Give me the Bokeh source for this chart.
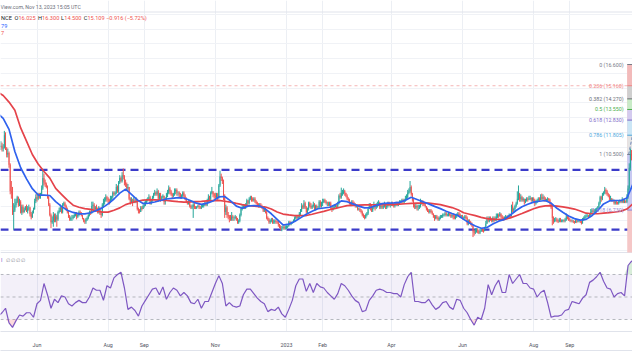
import numpy as np
import pandas as pd
from bokeh.plotting import figure
from bokeh.models import (Range1d, FixedTicker, Grid, Span, Label, BoxAnnotation, ColumnDataSource,
                          LinearAxis)
from bokeh.embed import file_html
from bokeh.resources import INLINE

# ---------------- data: LINK/USDT daily candles ----------------
first_open = 11.0
month_starts = ["2022-05-01", "2022-06-01", "2022-07-01", "2022-08-01", "2022-09-01",
                "2022-10-01", "2022-11-01", "2022-12-01", "2023-01-01", "2023-02-01",
                "2023-03-01", "2023-04-01", "2023-05-01", "2023-06-01", "2023-07-01",
                "2023-08-01", "2023-09-01", "2023-10-01"]

close_2205 = [11.1, 10.9, 10.95, 11.8, 10.9, 10.5, 10.6,
              9.8, 8.0, 7.9, 6.6, 6.7, 7.05, 7.3, 7.6, 7.05, 7.3, 6.55, 6.95, 6.6, 6.75, 6.95, 6.65, 6.85, 6.9, 6.45, 6.25, 6.55, 6.8, 7.35, 7.6]
high_2205 = [11.4, 11.3, 11.2, 12.1, 12.0, 11.0, 10.9,
             10.7, 9.9, 8.7, 8.3, 7.2, 7.5, 7.5, 7.7, 7.65, 7.5, 7.4, 7.1, 7.1, 6.9, 7.0, 7.1, 7.0, 7.1, 6.95, 6.6, 6.7, 6.9, 7.5, 7.8]
low_2205 = [10.8, 10.7, 10.7, 10.9, 10.8, 10.3, 10.3,
            9.6, 7.8, 7.5, 6.4, 5.4, 6.6, 6.9, 7.2, 6.95, 7.0, 6.5, 6.4, 6.5, 6.55, 6.7, 6.6, 6.5, 6.7, 6.3, 6.1, 6.2, 6.5, 6.75, 7.2]

close_2206 = [7.5, 7.8, 7.6, 7.75, 8.2, 8.9, 8.6, 8.5, 8.3, 7.6, 7.1, 6.4, 5.9, 6.0, 6.4, 6.0, 6.3, 6.1, 6.6, 6.7, 6.9, 6.6, 7.1, 7.2, 7.0, 6.8, 6.6, 6.3, 6.1, 6.2]
high_2206 = [7.9, 7.9, 7.9, 7.9, 8.4, 9.5, 9.2, 8.8, 8.6, 8.4, 7.7, 7.2, 6.5, 6.3, 6.6, 6.5, 6.5, 6.4, 6.7, 6.9, 7.1, 7.0, 7.2, 7.3, 7.3, 7.1, 6.9, 6.7, 6.4, 6.3]
low_2206 = [7.3, 7.4, 7.5, 7.5, 7.7, 8.1, 8.4, 8.3, 8.2, 7.5, 7.0, 6.3, 5.5, 5.8, 5.6, 5.9, 5.9, 5.6, 6.0, 6.5, 6.6, 6.5, 6.5, 7.0, 6.9, 6.7, 6.5, 6.2, 6.0, 6.0]

close_2207 = [6.2, 6.3, 6.4, 6.5, 6.3, 6.4, 6.6, 6.5, 6.4, 6.2, 6.0, 5.95, 6.1, 6.2, 6.4, 6.6, 6.5, 7.0, 7.1, 6.8, 6.9, 6.8, 6.6, 6.9, 6.5, 6.4, 7.1, 7.3, 7.4, 7.6, 7.5]
high_2207 = [6.4, 6.4, 6.5, 6.6, 6.6, 6.5, 6.7, 6.7, 6.6, 6.4, 6.2, 6.1, 6.2, 6.3, 6.5, 6.7, 6.7, 7.3, 7.3, 7.2, 7.0, 7.1, 6.9, 7.0, 6.9, 6.6, 7.2, 7.5, 7.6, 7.8, 7.7]
low_2207 = [6.0, 6.1, 6.2, 6.3, 6.1, 6.2, 6.3, 6.4, 6.3, 6.1, 5.9, 5.8, 5.8, 6.0, 6.1, 6.3, 6.4, 6.5, 6.8, 6.6, 6.6, 6.7, 6.5, 6.5, 6.4, 6.2, 6.3, 6.9, 7.1, 7.3, 7.3]

close_2208 = [7.4, 7.3, 7.5, 7.6, 7.9, 7.8, 7.9, 8.3, 8.0, 8.6, 8.9, 8.7, 9.1, 9.0, 8.6, 8.5, 8.2, 8.3, 7.5, 7.3, 7.4, 7.3, 7.4, 7.3, 7.4, 6.8, 6.7, 6.6, 6.9, 6.8, 7.0]
high_2208 = [7.6, 7.5, 7.7, 7.7, 8.0, 8.0, 8.0, 8.5, 8.4, 8.7, 9.1, 9.0, 9.3, 9.55, 9.1, 8.8, 8.6, 8.5, 8.3, 7.6, 7.6, 7.5, 7.6, 7.5, 7.6, 7.5, 6.9, 6.8, 7.0, 7.0, 7.1]
low_2208 = [7.2, 7.1, 7.2, 7.4, 7.5, 7.7, 7.7, 7.8, 7.9, 7.9, 8.5, 8.6, 8.6, 8.8, 8.4, 8.3, 8.1, 8.1, 7.4, 7.1, 7.2, 7.0, 7.2, 7.2, 7.2, 6.7, 6.5, 6.5, 6.6, 6.7, 6.8]

close_2209 = [7.1, 7.3, 7.4, 7.5, 7.6, 7.2, 7.4, 7.6, 7.8, 7.9, 7.8, 8.0, 7.5, 7.8, 7.5, 7.6, 7.7, 7.3, 7.5, 7.8, 7.9, 8.2, 8.0, 7.8, 7.7, 7.8, 8.0, 8.1, 7.9, 7.9]
high_2209 = [7.3, 7.4, 7.5, 7.6, 7.8, 7.7, 7.5, 7.7, 7.9, 8.1, 8.0, 8.2, 8.1, 7.9, 7.9, 7.7, 7.8, 7.7, 7.6, 7.9, 8.1, 8.4, 8.3, 8.1, 7.9, 7.9, 8.2, 8.2, 8.2, 8.0]
low_2209 = [6.9, 7.0, 7.2, 7.3, 7.4, 7.1, 7.1, 7.3, 7.5, 7.7, 7.7, 7.7, 7.3, 7.4, 7.3, 7.4, 7.5, 7.1, 7.1, 7.4, 7.6, 7.8, 7.8, 7.7, 7.5, 7.6, 7.7, 7.8, 7.7, 7.7]

close_2210 = [7.8, 7.6, 7.7, 7.9, 7.7, 7.5, 7.3, 7.2, 7.3, 7.0, 6.9, 6.95, 7.1, 6.9, 6.85, 6.95, 7.0, 6.95, 6.9, 6.95, 7.0, 7.1, 7.2, 7.1, 7.4, 7.6, 7.5, 7.9, 8.0, 7.8, 7.7]
high_2210 = [8.0, 7.9, 7.8, 8.0, 8.0, 7.8, 7.6, 7.35, 7.4, 7.4, 7.1, 7.1, 7.2, 7.3, 7.0, 7.0, 7.1, 7.2, 7.0, 7.1, 7.1, 7.2, 7.3, 7.3, 7.5, 7.8, 7.7, 8.0, 8.3, 8.0, 7.9]
low_2210 = [7.6, 7.5, 7.5, 7.6, 7.6, 7.4, 7.2, 7.1, 7.1, 6.9, 6.8, 6.8, 6.2, 6.8, 6.8, 6.8, 6.9, 6.8, 6.8, 6.8, 6.9, 6.9, 7.0, 7.0, 7.0, 7.3, 7.4, 7.4, 7.8, 7.6, 7.5]

close_2211 = [7.6, 7.8, 7.6, 8.4, 9.0, 8.9, 8.7, 7.6, 6.6, 6.9, 6.4, 6.3, 6.2, 6.1, 6.3, 6.2, 6.2, 6.3, 6.1, 5.9, 6.0, 6.4, 6.8, 6.9, 7.0, 6.9, 7.1, 7.4, 7.2, 7.5]
high_2211 = [7.9, 7.9, 7.9, 8.5, 9.4, 9.2, 9.0, 8.8, 7.8, 7.1, 7.0, 6.6, 6.4, 6.4, 6.6, 6.4, 6.3, 6.4, 6.3, 6.2, 6.1, 6.5, 6.9, 7.1, 7.1, 7.1, 7.2, 7.5, 7.4, 7.6]
low_2211 = [7.4, 7.5, 7.4, 7.5, 8.3, 8.7, 8.5, 7.4, 6.2, 6.4, 6.2, 6.1, 5.9, 6.0, 6.0, 6.0, 6.0, 6.1, 6.0, 5.8, 5.8, 5.9, 6.3, 6.7, 6.8, 6.8, 6.8, 7.0, 7.1, 7.1]

close_2212 = [7.6, 7.5, 7.4, 7.5, 7.3, 7.2, 7.1, 7.0, 7.1, 7.0, 6.9, 6.7, 6.8, 6.6, 6.2, 6.1, 5.9, 6.0, 6.1, 5.9, 5.9, 6.0, 5.95, 5.9, 5.75, 5.6, 5.5, 5.5, 5.6, 5.5, 5.55]
high_2212 = [7.7, 7.7, 7.6, 7.6, 7.6, 7.4, 7.3, 7.2, 7.2, 7.2, 7.1, 7.0, 7.0, 6.9, 6.7, 6.3, 6.2, 6.1, 6.2, 6.2, 6.1, 6.1, 6.1, 6.0, 6.0, 5.8, 5.7, 5.65, 5.7, 5.7, 5.7]
low_2212 = [7.4, 7.3, 7.3, 7.3, 7.2, 7.1, 7.0, 6.9, 6.9, 6.9, 6.8, 6.6, 6.6, 6.5, 6.1, 6.0, 5.8, 5.8, 5.9, 5.8, 5.8, 5.8, 5.8, 5.8, 5.6, 5.5, 5.35, 5.3, 5.4, 5.4, 5.4]

close_2301 = [5.6, 5.65, 5.9, 5.8, 5.85, 5.9, 6.0, 6.2, 6.3, 6.2, 6.3, 6.5, 6.7, 7.0, 6.9, 7.2, 6.9, 6.6, 6.8, 7.2, 7.0, 6.9, 7.0, 7.1, 6.8, 7.0, 6.9, 6.9, 7.3, 7.0, 7.2]
high_2301 = [5.7, 5.7, 6.0, 6.0, 5.95, 5.95, 6.1, 6.3, 6.4, 6.4, 6.4, 6.6, 6.8, 7.2, 7.1, 7.4, 7.3, 7.0, 6.9, 7.3, 7.3, 7.2, 7.1, 7.3, 7.2, 7.1, 7.1, 7.0, 7.4, 7.4, 7.3]
low_2301 = [5.45, 5.5, 5.6, 5.7, 5.7, 5.8, 5.85, 5.95, 6.1, 6.1, 6.1, 6.2, 6.4, 6.6, 6.8, 6.8, 6.8, 6.5, 6.5, 6.7, 6.9, 6.8, 6.8, 6.9, 6.7, 6.7, 6.8, 6.8, 6.8, 6.9, 6.9]

close_2302 = [7.3, 7.4, 7.3, 7.2, 7.2, 7.1, 7.2, 6.9, 6.8, 6.9, 6.95, 7.0, 6.95, 7.2, 7.7, 7.6, 7.9, 7.9, 8.0, 7.9, 7.7, 7.5, 7.4, 7.2, 7.1, 7.3, 7.2, 7.1]
high_2302 = [7.5, 7.5, 7.5, 7.4, 7.3, 7.3, 7.3, 7.3, 7.0, 7.0, 7.05, 7.1, 7.1, 7.3, 7.8, 7.9, 8.25, 8.1, 8.2, 8.1, 7.9, 7.8, 7.6, 7.5, 7.3, 7.4, 7.4, 7.3]
low_2302 = [7.0, 7.2, 7.2, 7.1, 7.0, 7.0, 7.0, 6.8, 6.6, 6.7, 6.8, 6.9, 6.8, 6.9, 7.1, 7.5, 7.5, 7.7, 7.8, 7.7, 7.6, 7.4, 7.3, 7.1, 7.0, 7.0, 7.1, 7.0]

close_2303 = [7.0, 7.0, 6.8, 6.8, 6.7, 6.6, 6.4, 6.3, 6.2, 6.4, 6.5, 6.8, 7.0, 6.9, 6.7, 6.9, 7.0, 6.9, 7.0, 7.1, 7.2, 6.9, 7.0, 6.9, 7.0, 7.1, 6.9, 7.0, 7.2, 7.1, 7.1]
high_2303 = [7.2, 7.1, 7.0, 6.9, 6.9, 6.8, 6.7, 6.5, 6.4, 6.5, 6.6, 6.9, 7.2, 7.2, 7.1, 7.0, 7.3, 7.1, 7.2, 7.3, 7.4, 7.3, 7.2, 7.1, 7.1, 7.3, 7.2, 7.1, 7.3, 7.3, 7.2]
low_2303 = [6.9, 6.9, 6.7, 6.7, 6.6, 6.5, 6.3, 6.2, 6.1, 6.15, 6.3, 6.4, 6.8, 6.7, 6.6, 6.6, 6.8, 6.7, 6.8, 6.9, 7.0, 6.8, 6.8, 6.8, 6.8, 6.9, 6.8, 6.8, 6.9, 7.0, 6.9]

close_2304 = [7.2, 7.1, 7.0, 7.1, 7.2, 7.1, 7.2, 7.3, 7.3, 7.4, 7.3, 7.4, 7.5, 7.6, 7.9, 8.0, 8.3, 7.8, 7.4, 7.1, 6.9, 7.0, 6.9, 6.9, 7.0, 7.2, 7.3, 7.2, 7.1, 7.0]
high_2304 = [7.3, 7.3, 7.2, 7.2, 7.3, 7.3, 7.3, 7.4, 7.4, 7.5, 7.5, 7.5, 7.7, 7.8, 8.1, 8.2, 8.7, 8.4, 7.9, 7.5, 7.2, 7.2, 7.1, 7.1, 7.1, 7.5, 7.4, 7.4, 7.3, 7.2]
low_2304 = [7.0, 7.0, 6.9, 6.9, 7.0, 7.0, 7.0, 7.1, 7.2, 7.2, 7.2, 7.2, 7.3, 7.4, 7.5, 7.8, 7.9, 7.7, 7.3, 6.9, 6.8, 6.8, 6.7, 6.7, 6.8, 6.9, 7.1, 7.0, 7.0, 6.9]

close_2305 = [6.8, 6.7, 6.6, 6.7, 6.6, 6.5, 6.3, 6.2, 6.3, 6.2, 6.1, 6.2, 6.3, 6.3, 6.4, 6.4, 6.5, 6.4, 6.4, 6.5, 6.4, 6.3, 6.4, 6.3, 6.2, 6.3, 6.4, 6.5, 6.4, 6.3, 6.3]
high_2305 = [7.0, 6.9, 6.8, 6.8, 6.8, 6.7, 6.5, 6.4, 6.4, 6.4, 6.3, 6.3, 6.4, 6.4, 6.5, 6.5, 6.6, 6.6, 6.5, 6.6, 6.6, 6.5, 6.5, 6.5, 6.4, 6.4, 6.5, 6.6, 6.6, 6.5, 6.4]
low_2305 = [6.7, 6.6, 6.5, 6.5, 6.5, 6.4, 6.2, 6.0, 6.1, 6.1, 6.0, 6.0, 6.1, 6.2, 6.2, 6.3, 6.3, 6.3, 6.3, 6.3, 6.3, 6.2, 6.2, 6.1, 6.1, 6.1, 6.2, 6.3, 6.3, 6.2, 6.2]

close_2306 = [6.2, 6.2, 6.3, 6.2, 5.8, 6.0, 5.9, 5.8, 5.7, 5.3, 5.2, 5.3, 5.35, 5.3, 5.2, 5.3, 5.4, 5.35, 5.3, 5.5, 5.8, 6.1, 6.0, 6.2, 6.1, 6.0, 6.2, 6.0, 6.1, 6.3]
high_2306 = [6.4, 6.3, 6.4, 6.4, 6.3, 6.1, 6.1, 6.0, 5.9, 5.7, 5.4, 5.5, 5.5, 5.5, 5.4, 5.45, 5.5, 5.5, 5.45, 5.6, 6.0, 6.3, 6.3, 6.3, 6.3, 6.2, 6.3, 6.3, 6.3, 6.5]
low_2306 = [6.1, 6.1, 6.1, 6.1, 5.7, 5.7, 5.8, 5.7, 5.6, 4.9, 5.0, 5.1, 5.2, 5.15, 5.1, 5.1, 5.25, 5.25, 5.2, 5.3, 5.5, 5.8, 5.9, 5.9, 6.0, 5.9, 5.9, 5.9, 6.0, 6.0]

close_2307 = [6.4, 6.3, 6.5, 6.3, 6.2, 6.1, 6.2, 6.3, 6.25, 6.3, 6.35, 6.3, 7.0, 6.7, 6.8, 7.0, 7.2, 7.5, 7.8, 7.5, 7.6, 7.4, 7.5, 7.3, 7.35, 7.5, 7.45, 7.5, 7.55, 7.45, 7.5]
high_2307 = [6.5, 6.5, 6.6, 6.5, 6.4, 6.3, 6.3, 6.4, 6.35, 6.4, 6.5, 6.4, 7.1, 7.3, 6.9, 7.1, 7.3, 8.0, 8.4, 7.9, 7.8, 7.7, 7.6, 7.5, 7.5, 7.6, 7.6, 7.7, 7.7, 7.6, 7.6]
low_2307 = [6.2, 6.2, 6.3, 6.2, 6.0, 6.0, 6.05, 6.15, 6.1, 6.15, 6.2, 6.2, 6.3, 6.6, 6.6, 6.7, 6.9, 7.1, 7.4, 7.3, 7.3, 7.3, 7.3, 7.1, 7.2, 7.3, 7.3, 7.4, 7.4, 7.3, 7.3]

close_2308 = [7.4, 7.2, 7.3, 7.4, 7.5, 7.4, 7.6, 7.5, 7.6, 7.5, 7.4, 7.45, 7.5, 7.4, 7.2, 6.9, 6.2, 6.0, 6.1, 6.1, 6.0, 5.95, 6.1, 6.0, 6.0, 6.05, 6.0, 6.1, 6.3, 6.15, 6.1]
high_2308 = [7.6, 7.5, 7.4, 7.5, 7.6, 7.6, 7.8, 7.85, 7.8, 7.7, 7.6, 7.5, 7.6, 7.55, 7.5, 7.25, 7.0, 6.3, 6.2, 6.25, 6.2, 6.1, 6.2, 6.2, 6.1, 6.1, 6.1, 6.2, 6.5, 6.4, 6.3]
low_2308 = [7.2, 7.0, 7.1, 7.2, 7.3, 7.3, 7.4, 7.4, 7.4, 7.3, 7.3, 7.3, 7.3, 7.3, 7.1, 6.8, 5.7, 5.8, 5.9, 5.95, 5.9, 5.85, 5.9, 5.9, 5.9, 5.9, 5.9, 5.9, 6.0, 6.1, 6.0]

close_2309 = [6.05, 6.0, 6.0, 5.95, 5.9, 6.0, 5.95, 6.0, 6.0, 5.95, 5.85, 6.1, 6.2, 6.3, 6.35, 6.35, 6.3, 6.4, 6.6, 6.7, 6.6, 6.7, 6.75, 6.8, 6.9, 7.2, 7.6, 7.5, 7.8, 7.9]
high_2309 = [6.2, 6.1, 6.1, 6.05, 6.0, 6.1, 6.1, 6.1, 6.1, 6.05, 6.0, 6.2, 6.3, 6.4, 6.45, 6.45, 6.4, 6.5, 6.8, 6.85, 6.8, 6.8, 6.85, 6.9, 7.0, 7.3, 7.7, 7.7, 7.9, 8.0]
low_2309 = [5.95, 5.9, 5.9, 5.85, 5.8, 5.85, 5.85, 5.9, 5.9, 5.85, 5.75, 5.8, 6.0, 6.1, 6.2, 6.25, 6.2, 6.2, 6.3, 6.5, 6.5, 6.5, 6.6, 6.6, 6.7, 6.8, 7.1, 7.3, 7.4, 7.7]

close_2310 = [8.1, 8.0, 7.8, 7.7, 7.5, 7.5, 7.4, 7.4, 7.2, 7.3, 7.25, 7.2, 7.3, 7.35, 7.3, 7.4, 7.3, 7.35, 7.3, 7.6, 8.2, 9.6, 10.5, 10.4, 10.7, 10.5, 10.6, 10.9, 11.2, 11.1, 11.3]
high_2310 = [8.3, 8.2, 8.1, 7.9, 7.8, 7.7, 7.55, 7.5, 7.45, 7.4, 7.4, 7.3, 7.4, 7.45, 7.4, 7.6, 7.5, 7.45, 7.4, 7.8, 8.4, 9.9, 10.9, 10.8, 10.9, 10.9, 10.8, 11.1, 11.45, 11.45, 11.5]
low_2310 = [7.8, 7.8, 7.7, 7.6, 7.4, 7.4, 7.3, 7.3, 7.1, 7.1, 7.1, 7.1, 7.1, 7.2, 7.2, 7.2, 7.2, 7.2, 7.2, 7.2, 7.5, 8.1, 9.4, 10.1, 10.2, 10.3, 10.3, 10.5, 10.8, 10.9, 11.0]

closes = [close_2205, close_2206, close_2207, close_2208, close_2209, close_2210, close_2211, close_2212,
          close_2301, close_2302, close_2303, close_2304, close_2305, close_2306, close_2307, close_2308,
          close_2309, close_2310]
highs = [high_2205, high_2206, high_2207, high_2208, high_2209, high_2210, high_2211, high_2212,
         high_2301, high_2302, high_2303, high_2304, high_2305, high_2306, high_2307, high_2308,
         high_2309, high_2310]
lows = [low_2205, low_2206, low_2207, low_2208, low_2209, low_2210, low_2211, low_2212,
        low_2301, low_2302, low_2303, low_2304, low_2305, low_2306, low_2307, low_2308,
        low_2309, low_2310]

# moving averages, sampled every 5 days from 2022-04-28
ma_start = "2022-04-28"
ma_step_days = 5
ema20 = [13.3, 12.95,
         12.2, 10.7, 9.6, 8.85, 8.18, 7.75, 7.75, 7.72, 7.3, 6.98,
         6.72, 6.57, 6.47, 6.47, 6.55, 6.7, 6.88, 7.15, 7.48, 7.88,
         8.15, 7.8, 7.42, 7.17, 7.2, 7.28, 7.38, 7.48, 7.53, 7.58,
         7.55, 7.4, 7.22, 7.12, 7.2, 7.35, 7.62, 7.65, 7.35, 7.0,
         6.85, 7.0, 7.04, 7.0, 6.8, 6.48, 6.1, 5.72, 5.78, 5.95,
         6.2, 6.45, 6.65, 6.82, 6.87, 6.92, 7.1, 7.35, 7.3, 7.15,
         7.0, 6.88, 6.9, 7.05, 7.17, 7.2, 7.22, 7.25, 7.4, 7.6,
         7.45, 7.3, 7.15, 6.98, 6.83, 6.65, 6.5, 6.36, 6.1, 5.85,
         5.65, 5.5, 5.55, 5.78, 5.98, 6.1, 6.4, 6.7, 6.96, 7.12,
         7.27, 7.33, 7.38, 7.2, 6.85, 6.58, 6.33, 6.15, 6.05, 6.1,
         6.35, 6.7, 7.15, 7.35, 7.38, 7.38, 7.55, 8.45, 9.5, 10.3]
sma50 = [14.75, 14.5,
         14.05, 13.5, 12.3, 11.4, 10.5, 9.85, 9.35, 8.9, 8.2, 7.8,
         7.4, 7.06, 6.92, 6.83, 6.78, 6.68, 6.59, 6.59, 6.72, 6.88,
         7.1, 7.23, 7.33, 7.4, 7.43, 7.42, 7.4, 7.38, 7.34, 7.3,
         7.27, 7.28, 7.3, 7.32, 7.35, 7.37, 7.39, 7.33, 7.27, 7.18,
         7.1, 7.04, 7.0, 6.97, 6.94, 6.8, 6.6, 6.46, 6.4, 6.36,
         6.36, 6.36, 6.45, 6.55, 6.64, 6.75, 6.85, 6.94, 7.03, 7.05,
         7.07, 7.08, 7.08, 7.09, 7.1, 7.1, 7.12, 7.14, 7.16, 7.18,
         7.2, 7.2, 7.2, 7.15, 7.1, 7.0, 6.9, 6.75, 6.55, 6.45,
         6.35, 6.24, 6.15, 6.1, 6.1, 6.1, 6.2, 6.35, 6.5, 6.66,
         6.82, 6.95, 7.02, 7.03, 7.0, 6.95, 6.88, 6.8, 6.67, 6.52,
         6.48, 6.48, 6.52, 6.56, 6.6, 6.66, 6.8, 7.15, 7.6, 8.1]

# RSI(14), sampled every 3 days from 2022-04-29
rsi_start = "2022-04-29"
rsi_step_days = 3
rsi14 = [33, 36, 40,
         27, 23, 29, 34, 33, 36, 36, 32, 44, 47,
         62, 52, 40, 48, 45, 51, 50, 44, 42, 45,
         47, 45, 45, 50, 58, 56, 56, 47, 60, 58,
         67, 70, 72, 58, 39, 41, 38, 33, 42, 47,
         52, 57, 58, 52, 59, 48, 54, 58, 56, 51,
         54, 51, 45, 44, 48, 40, 46, 46, 54, 62,
         69, 62, 42, 45, 42, 41, 42, 52, 57, 57,
         53, 49, 46, 44, 37, 39, 38, 41, 35, 32,
         39, 47, 60, 66, 66, 55, 62, 54, 62, 59,
         58, 54, 51, 48, 53, 62, 60, 56, 51, 47,
         45, 37, 38, 47, 51, 56, 57, 56, 54, 54,
         53, 53, 50, 61, 68, 72, 46, 46, 45, 45,
         48, 43, 39, 41, 45, 46, 41, 39, 48, 47,
         40, 36, 30, 25, 32, 30, 40, 61, 52, 60,
         65, 54, 54, 70, 62, 66, 70, 62, 62, 58,
         57, 50, 54, 56, 45, 32, 33, 33, 34, 38,
         39, 46, 45, 44, 49, 52, 63, 65, 68, 72,
         64, 58, 57, 50, 53, 54, 51, 78, 82, 79,
         78, 80]

# horizontal levels and fibonacci drawing
resistance = 9.46
support = 5.41
fib_high = 16.6
fib_low = 10.5
fib_levels = [0, 0.236, 0.382, 0.5, 0.618, 0.786, 1, 1.618]
fib_start = "2023-10-20 07:00"
fib_end = "2023-11-15"
trend_start = "2023-10-21 12:00"
trend_end = "2023-11-06"

tick_dates = ["2022-06-01", "2022-08-01", "2022-09-01", "2022-11-01", "2023-01-01",
              "2023-02-01", "2023-04-01", "2023-06-01", "2023-08-01", "2023-09-01"]
tick_labels = ["Jun", "Aug", "Sep", "Nov", "2023", "Feb", "Apr", "Jun", "Aug", "Sep"]

header_text = "View.com, Nov 13, 2023 15:05 UTC"
legend_parts = [("NCE", "dark"), ("O", "dark"), ("16.025", "red"), ("H", "dark"), ("16.300", "red"),
                ("L", "dark"), ("14.500", "red"), ("C", "dark"), ("15.109", "red"),
                ("\u22120.916 (\u22125.72%)", "red")]

# ---------------- helpers ----------------
DAY = 86400000.0


def ms(s):
    return float(pd.Timestamp(s).value // 10**6)


FONT = "Roboto"
UP, DOWN = "#26a69a", "#ef5350"

# build daily candle table
xs, o, h, l, c = [], [], [], [], []
prev = first_open
for start, cc, hh, ll in zip(month_starts, closes, highs, lows):
    n = min(len(cc), len(hh), len(ll))
    t0 = ms(start)
    for i in range(n):
        xs.append(t0 + i * DAY)
        o.append(prev)
        c.append(cc[i])
        h.append(hh[i])
        l.append(ll[i])
        prev = cc[i]
xs = np.array(xs); o = np.array(o); c = np.array(c); h = np.array(h); l = np.array(l)
col = np.where(c >= o, UP, DOWN)
candles = ColumnDataSource(dict(x=xs, h=h, l=l, top=np.maximum(o, c), bot=np.minimum(o, c), color=col))

ma_x = ms(ma_start) + np.arange(len(ema20)) * ma_step_days * DAY
rsi_x = ms(rsi_start) + np.arange(len(rsi14)) * rsi_step_days * DAY
rsi_arr = np.array(rsi14, dtype=float)

# ---------------- figure ----------------
jun1 = ms("2022-06-01")
x_left = jun1 - 31.31 * DAY
x_right = jun1 + 510.81 * DAY
p_bot, p_top = -1.5017, 20.939

p = figure(width=632, height=352, output_backend="svg", toolbar_location=None,
           x_range=Range1d(x_left, x_right), y_range=Range1d(p_bot, p_top),
           y_axis_location=None, min_border_left=0, min_border_right=0,
           min_border_top=0, min_border_bottom=21,
           background_fill_color="white", border_fill_color="white", outline_line_color=None)
p.extra_y_ranges = {"rsi": Range1d(19.33, 313.56)}

# grids
p.ygrid.visible = False
p.add_layout(Grid(dimension=1, ticker=FixedTicker(ticks=list(range(4, 21))),
                  grid_line_color="#f0f2f6", grid_line_width=1))
tick_ms = [ms(d) for d in tick_dates]
p.xaxis.ticker = FixedTicker(ticks=tick_ms)
p.xaxis.major_label_overrides = {t: s for t, s in zip(tick_ms, tick_labels)}
p.xgrid.grid_line_color = "#eceff4"
p.xaxis.axis_line_color = "#e0e3eb"
p.xaxis.major_tick_line_color = None
p.xaxis.minor_tick_line_color = None
p.xaxis.major_label_text_font = FONT
p.xaxis.major_label_text_font_size = "5.3px"
p.xaxis.major_label_text_color = "#50535e"
p.xaxis.major_label_standoff = 4

# a second, label-less axis under the first one draws the bottom rule of the time scale
rule_axis = LinearAxis(ticker=FixedTicker(ticks=[]), axis_line_color="#e0e3eb",
                       major_tick_line_color=None, minor_tick_line_color=None,
                       major_label_text_font_size="0px")
p.add_layout(rule_axis, "below")

# pane separators
p.add_layout(Span(location=20.159, dimension="width", line_color="#e0e3eb", line_width=1, level="underlay"))
p.add_layout(Span(location=3.854, dimension="width", line_color="#e0e3eb", line_width=1, level="underlay"))

# RSI band
p.add_layout(BoxAnnotation(bottom=30, top=70, y_range_name="rsi", fill_color="#7e57c2",
                           fill_alpha=0.09, line_color=None, level="underlay"))
for lv in (70, 50, 30):
    p.add_layout(Span(location=lv, dimension="width", y_range_name="rsi", line_color="#a3a6af",
                      line_width=0.8, line_dash="3 3", level="underlay"))

# support / resistance and extended 0.236 line
for lv in (resistance, support):
    p.add_layout(Span(location=lv, dimension="width", line_color="#3b3bc9", line_width=2.2,
                      line_dash="8 5", level="underlay"))
fib_price = [fib_high - f * (fib_high - fib_low) for f in fib_levels]
p.add_layout(Span(location=fib_price[1], dimension="width", line_color="#f2a3a3", line_width=0.8,
                  line_dash="3 3", level="underlay"))

# fibonacci box
fx0, fx1 = ms(fib_start), ms(fib_end)
p.quad(left=fx0, right=fx1, top=fib_high, bottom=3.854, fill_color="#f5c7c7", line_color=None)
band_colors = ["#f2baba", "#cfcfcf", "#c8ebc7", "#d4cbef", "#cbe6f6", "#e4e4e4", "#c8c9f2"]
p.quad(left=[fx0] * 7, right=[fx1] * 7, top=fib_price[:-1], bottom=fib_price[1:],
       fill_color=band_colors, line_color=None)
lvl_colors = ["#787b86", "#f08585", "#6b6e78", "#4caf50", "#7e6ac8", "#4fa8dc", "#787b86", "#9088d8"]
p.segment(x0=[fx0] * 8, x1=[fx1] * 8, y0=fib_price, y1=fib_price, line_color=lvl_colors, line_width=1)
p.line(x=[ms(trend_start), ms(trend_end)], y=[fib_low, fib_high], line_color="#6f86b8",
       line_width=1, line_dash="3 2")

# candles
p.segment(x0="x", y0="l", x1="x", y1="h", line_color="color", line_width=1, source=candles)
p.vbar(x="x", width=0.75 * DAY, top="top", bottom="bot", fill_color="color", line_color=None, source=candles)

# moving averages
p.line(ma_x, sma50, line_color="#e5434a", line_width=1.7)
p.line(ma_x, ema20, line_color="#2f62ee", line_width=1.7)

# RSI
p.varea(x=rsi_x, y1=70, y2=np.maximum(rsi_arr, 70), fill_color="#4caf50", fill_alpha=0.22, y_range_name="rsi")
p.varea(x=rsi_x, y1=np.minimum(rsi_arr, 30), y2=30, fill_color="#f23645", fill_alpha=0.18, y_range_name="rsi")
p.line(rsi_x, rsi_arr, line_color="#7e57c2", line_width=1.2, y_range_name="rsi")


# ---------------- texts ----------------
def top_text(txt, xoff, yref, color, size="5.3px", style="normal"):
    p.add_layout(Label(x=x_left, y=p_top, x_offset=xoff, y_offset=-yref, text=txt,
                       text_color=color, text_font=FONT, text_font_size=size, text_font_style=style,
                       text_align="left", text_baseline="middle"))


top_text(header_text, 0, 6, "#6a6d78", "5.2px")
leg_x = [0.5, 14.0, 17.9, 37.6, 41.6, 60.6, 63.8, 83.3, 86.9, 105.6]
for (txt, kind), xo in zip(legend_parts, leg_x):
    top_text(txt, xo, 17.5, "#131722" if kind == "dark" else "#ef5350", "5.6px")
top_text("79", 0.5, 25, "#2962ff", "5.6px")
top_text("7", 0.5, 32, "#ef5350", "5.6px")
top_text("I", 0.5, 259, "#7e57c2", "5.3px")
top_text("\u2205  \u2205  \u2205  \u2205", 5, 259, "#8a8d96", "5.3px")

for f, pr, colr in zip(fib_levels, fib_price, lvl_colors):
    p.add_layout(Label(x=fx0, y=pr, x_offset=-3.7, text=f"{f:g} ({pr:.3f})", text_color=colr,
                       text_font=FONT, text_font_size="5.3px", text_align="right",
                       text_baseline="middle"))

open("out.html", "w").write(file_html(p, INLINE))
